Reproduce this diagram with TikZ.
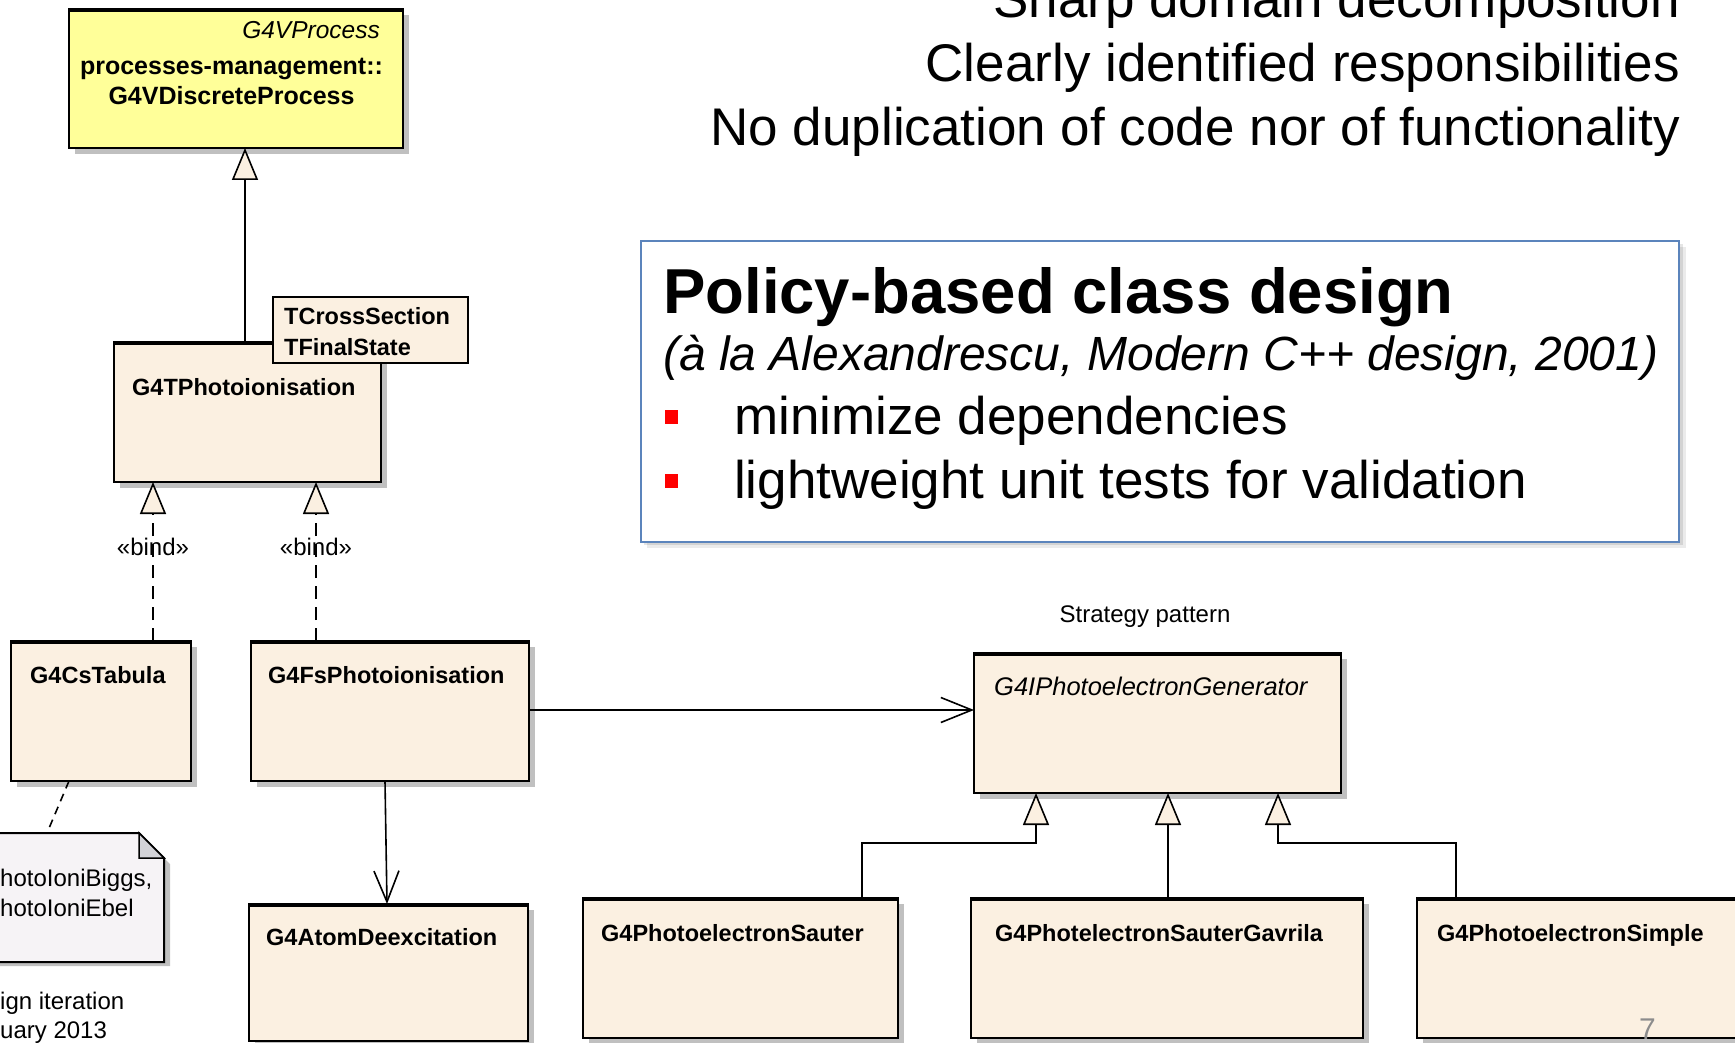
\documentclass[tikz,border=0pt]{standalone}
\usepackage{fontspec}
\setmainfont{Liberation Sans}
\usetikzlibrary{arrows.meta,shadows,calc}
\definecolor{cream}{HTML}{FBF0E1}
\definecolor{umlyellow}{HTML}{FFFF99}
\definecolor{shadowgrey}{HTML}{C0C0C0}
\definecolor{notefill}{HTML}{F6F3F6}
\definecolor{foldgrey}{HTML}{D3D3D8}
\definecolor{polblue}{HTML}{5B84BC}
\definecolor{pagegrey}{HTML}{8C8C8C}
\tikzset{
  classbox/.style={draw=black, line width=2pt, fill=cream, rectangle, inner sep=0pt, outer sep=0pt,
    anchor=north west, general shadow={fill=shadowgrey, shadow xshift=6pt, shadow yshift=-6pt}},
  parambox/.style={draw=black, line width=2pt, fill=cream, rectangle, inner sep=0pt, outer sep=0pt, anchor=north west},
  cname/.style={font=\fontsize{23.5}{28}\selectfont\bfseries, inner sep=0pt, anchor=base west},
  cital/.style={font=\fontsize{23.5}{28}\selectfont\itshape, inner sep=0pt},
  smalltext/.style={font=\fontsize{24}{28}\selectfont, inner sep=0pt},
  bigtext/.style={font=\fontsize{53}{60}\selectfont, inner sep=0pt},
  policybox/.style={draw=polblue, line width=1.5pt, fill=white, rectangle, inner sep=0pt, outer sep=0pt, anchor=north west},
  bulletsq/.style={fill=red, draw=none, rectangle, minimum width=13pt, minimum height=14pt, inner sep=0pt},
  inherit/.style={draw=black, line width=1.6pt, -{Triangle[length=32pt,width=26pt,fill=cream]}},
  bindlink/.style={inherit, dash pattern=on 13pt off 8pt},
  assoc/.style={draw=black, line width=1.6pt, -{Straight Barb[length=31pt,width=25pt]}},
  notelink/.style={draw=black, line width=1.6pt, dash pattern=on 8pt off 6pt},
}
\begin{document}
\begin{tikzpicture}[x=1pt,y=-1pt]
\useasboundingbox (0,0) rectangle (1735,1043);

% ---------- top-right text ----------
\node[bigtext, anchor=base east] (l1) at (1680,18) {Sharp domain decomposition};
\node[bigtext, anchor=base east] (l2) at (1680,82) {Clearly identified responsibilities};
\node[bigtext, anchor=base east] (l3) at (1680,146) {No duplication of code nor of functionality};

% ---------- policy box ----------
\fill[black, opacity=0.08] (647,247) rectangle (1686,548);
\fill[black, opacity=0.10] (644,244) rectangle (1683,545);
\node[policybox, minimum width=1038pt, minimum height=301pt] (pol) at (641,241) {};
\node[font=\fontsize{63.5}{70}\selectfont\bfseries, inner sep=0pt, anchor=base west] (pt) at (663,313) {Policy-based class design};
\node[font=\fontsize{48}{54}\selectfont\itshape, inner sep=0pt, anchor=base west] (pi) at (663,370) {(à la Alexandrescu, Modern C++ design, 2001)};
\node[bulletsq] (bu1) at (671,417) {};
\node[bulletsq] (bu2) at (671,481) {};
\node[bigtext, anchor=base west] (pb1) at (734,434) {minimize dependencies};
\node[bigtext, anchor=base west] (pb2) at (734,498) {lightweight unit tests for validation};

% ---------- class boxes ----------
\node[classbox, fill=umlyellow, minimum width=334pt, minimum height=139pt] (gv) at (69,9) {};
\node[classbox, minimum width=267pt, minimum height=140pt] (gt) at (114,342) {};
\node[classbox, minimum width=180pt, minimum height=140pt] (cs) at (11,641) {};
\node[classbox, minimum width=278pt, minimum height=140pt] (fs) at (251,641) {};
\node[classbox, minimum width=367pt, minimum height=140pt] (gen) at (974,653) {};
\node[classbox, minimum width=279pt, minimum height=137pt] (atom) at (249,904) {};
\node[classbox, minimum width=315pt, minimum height=140pt] (sa) at (583,898) {};
\node[classbox, minimum width=392pt, minimum height=140pt] (ga) at (971,898) {};
\node[classbox, minimum width=343pt, minimum height=140pt] (si) at (1417,898) {};

% thicker top edges
\foreach \n in {gv,gt,cs,fs,gen,atom,sa,ga,si}
  \draw[line width=2pt] ([yshift=-2pt]\n.north west) -- ([yshift=-2pt]\n.north east);

% template parameter box (over the class box)
\node[parambox, minimum width=195pt, minimum height=66pt] (tp) at (273,297) {};

% class texts
\node[cital, anchor=base east, font=\fontsize{24.5}{28}\selectfont\itshape] (gvs) at (380,39) {G4VProcess};
\node[cname, anchor=base, font=\fontsize{25}{28}\selectfont\bfseries] (gvn1) at (231.5,75) {processes-management::};
\node[cname, anchor=base, font=\fontsize{25}{28}\selectfont\bfseries] (gvn2) at (231.5,105) {G4VDiscreteProcess};
\node[cname] (gtn) at (132,395) {G4TPhotoionisation};
\node[cname] (tp1) at (284,324) {TCrossSection};
\node[cname] (tp2) at (284,355) {TFinalState};
\node[cname] (csn) at (30,683) {G4CsTabula};
\node[cname] (fsn) at (268,683) {G4FsPhotoionisation};
\node[cital, anchor=base west, font=\fontsize{25.5}{28}\selectfont\itshape] (genn) at (994,695) {G4IPhotoelectronGenerator};
\node[smalltext, anchor=base] (strat) at (1145,622) {Strategy pattern};
\node[cname] (atomn) at (266,945) {G4AtomDeexcitation};
\node[cname] (san) at (601,941) {G4PhotoelectronSauter};
\node[cname] (gan) at (995,941) {G4PhotelectronSauterGavrila};
\node[cname] (sin) at (1437,941) {G4PhotoelectronSimple};

% ---------- note ----------
\fill[shadowgrey] (-20,839) -- (145,839) -- (170,864) -- (170,966) -- (-20,966) -- cycle;
\draw[line width=2pt, fill=notefill] (-20,833) -- (139,833) -- (164,858) -- (164,962) -- (-20,962) -- cycle;
\draw[line width=1.5pt, fill=foldgrey] (139,833) -- (139,858) -- (164,858) -- cycle;
\coordinate (notetop) at (47,833);
\node[smalltext, anchor=base west] (nt1) at (0,886) {hotoIoniBiggs,};
\node[smalltext, anchor=base west] (nt2) at (0,916) {hotoIoniEbel};
\node[smalltext, anchor=base west] (bt1) at (0,1009) {ign iteration};
\node[smalltext, anchor=base west] (bt2) at (0,1038) {uary 2013};

% ---------- connectors ----------
\draw[inherit] ([xshift=-2.5pt]gt.north) -- ([xshift=-2.5pt]gt.north |- gv.south);

\coordinate (b1) at ([xshift=39pt]gt.south west);
\coordinate (b2) at ([xshift=202pt]gt.south west);
\draw[bindlink] (cs.north -| b1) -- (b1);
\draw[bindlink] (fs.north -| b2) -- (b2);
\node[smalltext, anchor=base] (bl1) at (153,555) {«bind»};
\node[smalltext, anchor=base] (bl2) at (316,555) {«bind»};

\draw[notelink] ([xshift=58pt]cs.south west) -- (notetop);

\coordinate (fsout) at ([yshift=1pt]fs.east);
\draw[assoc] (fsout) -- (fsout -| gen.west);
\draw[assoc] ([xshift=-5pt]fs.south) -- ([xshift=-1.5pt]atom.north);

\coordinate (j1) at ([xshift=62pt,yshift=-50pt]gen.south west);
\coordinate (j3) at ([xshift=304pt,yshift=-50pt]gen.south west);
\draw[inherit] ([xshift=279pt]sa.north west) |- (j1) -- (j1 |- gen.south);
\draw[inherit] ([xshift=1pt]ga.north) -- ([xshift=1pt]ga.north |- gen.south);
\draw[inherit] ([xshift=39pt]si.north west) |- (j3) -- (j3 |- gen.south);

% page number
\node[font=\fontsize{30}{34}\selectfont, text=pagegrey, inner sep=0pt, anchor=base west] (pg) at (1639,1039) {7};
\end{tikzpicture}
\end{document}
